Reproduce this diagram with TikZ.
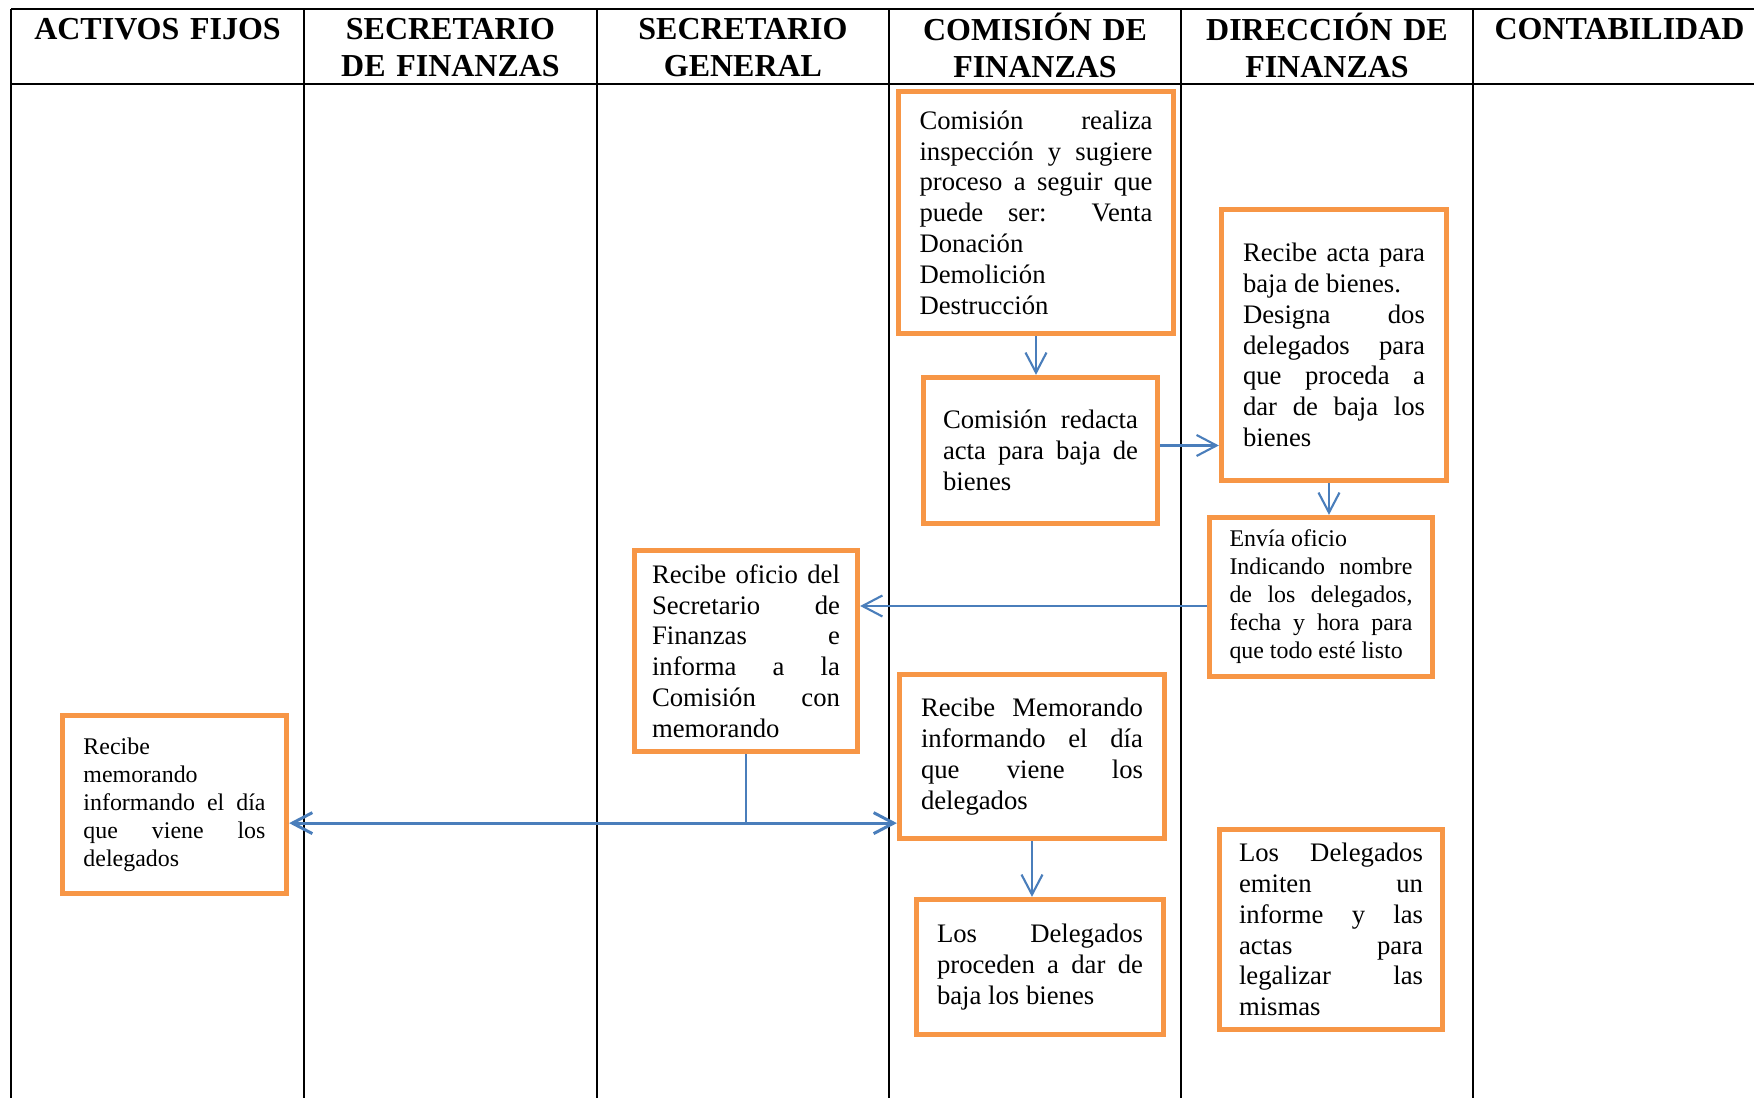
\documentclass[tikz,border=0pt]{standalone}
\usepackage{fontspec}
\setmainfont{Liberation Serif}
\usepackage{tikz}
\usetikzlibrary{arrows.meta, positioning}
\definecolor{naranja}{HTML}{F79646}
\definecolor{azul}{HTML}{4A7EBB}
% texto justificado sin cortes de palabra
\tolerance=10000
\hbadness=10000
\hyphenpenalty=10000
\exhyphenpenalty=10000

\begin{document}
\begin{tikzpicture}[
    paso/.style={rectangle, draw=naranja, line width=1.5pt, inner sep=0pt, align=justify,
      font=\fontsize{7.6}{8.76}\selectfont},
    chico/.style={font=\fontsize{6.8}{7.95}\selectfont},
    titulo/.style={anchor=north, inner sep=0pt, text width=2.55cm, align=center,
      font=\fontsize{9.1}{10.5}\selectfont\bfseries, execute at begin node=\strut},
    flecha/.style={azul, line width=0.6pt, -{Straight Barb[length=2mm, width=2.1mm]}}]
    \useasboundingbox (0,0) rectangle (17.54,-10.98);

    % tabla de responsables
    \draw[line width=0.6pt] (0.11,-0.09) -- (17.54,-0.09) (0.11,-0.84) -- (17.54,-0.84);
    \foreach \x in {0.11,3.04,5.97,8.89,11.81,14.73}
      \draw[line width=0.6pt] (\x,-0.09) -- (\x,-10.98);

    \node[titulo] (activos) at (1.575,-0.127) {ACTIVOS FIJOS};
    \node[titulo] (secfin) at (4.505,-0.127) {SECRETARIO\\DE FINANZAS};
    \node[titulo] (secgen) at (7.43,-0.127) {SECRETARIO\\GENERAL};
    \node[titulo] (comision) at (10.35,-0.127) {COMISIÓN DE\\FINANZAS};
    \node[titulo] (direccion) at (13.27,-0.127) {DIRECCIÓN DE\\FINANZAS};
    \node[titulo] (contab) at (16.195,-0.127) {CONTABILIDAD};

    % pasos del proceso
    \node[paso, text width=2.33cm, minimum width=2.75cm, minimum height=2.42cm] (inspeccion) at (10.36,-2.125)
      {Comisión realiza inspección y sugiere proceso a seguir que puede ser: Venta Donación\par Demolición\par Destrucción};
    \node[paso, text width=1.95cm, minimum width=2.34cm, minimum height=1.46cm] (redacta) at (10.405,-4.505)
      {Comisión redacta acta para baja de bienes};
    \node[paso, text width=1.82cm, minimum width=2.25cm, minimum height=2.71cm] (acta) at (13.34,-3.45)
      {Recibe acta para baja de bienes.\par Designa dos delegados para que proceda a dar de baja los bienes};
    \node[paso, chico, text width=1.83cm, minimum width=2.23cm, minimum height=1.59cm] (envia) at (13.21,-5.97)
      {Envía oficio\par Indicando nombre de los delegados, fecha y hora para que todo esté listo};
    \node[paso, text width=1.88cm, minimum width=2.23cm, minimum height=2.01cm] (oficio) at (7.46,-6.51)
      {Recibe oficio del\linebreak Secretario de\linebreak Finanzas e\linebreak informa a la\linebreak Comisión con\linebreak memorando};
    \node[paso, text width=2.22cm, minimum width=2.65cm, minimum height=1.64cm] (memocom) at (10.32,-7.565)
      {Recibe Memorando\linebreak informando el día\linebreak que viene los\linebreak delegados};
    \node[paso, text width=2.06cm, minimum width=2.47cm, minimum height=1.35cm] (procede) at (10.40,-9.67)
      {Los Delegados proceden a dar de baja los bienes};
    \node[paso, text width=1.84cm, minimum width=2.23cm, minimum height=2.00cm] (emiten) at (13.31,-9.295)
      {Los Delegados emiten un informe y las actas para legalizar las mismas};
    \node[paso, chico, text width=1.82cm, minimum width=2.24cm, minimum height=1.78cm] (memoaf) at (1.745,-8.045)
      {Recibe\par memorando\par informando el día\linebreak que viene los\linebreak delegados};

    % flujo
    \draw[flecha] (inspeccion.south) -- (inspeccion.south |- redacta.north);
    \draw[flecha] ([yshift=0.05cm]redacta.east) -- ([yshift=0.05cm]redacta.east -| acta.west);
    \draw[flecha] ([xshift=-0.05cm]acta.south) -- ([xshift=-0.05cm]acta.south |- envia.north);
    \draw[flecha] ([yshift=-0.09cm]envia.west) -- ([yshift=-0.09cm]envia.west -| oficio.east);
    \draw[flecha] (memocom.south) -- (memocom.south |- procede.north);
    \draw[azul, line width=0.6pt] (oficio.south) -- ++(0,-0.69) coordinate (cruce);
    \draw[flecha, line width=0.85pt] (cruce) -- (cruce -| memoaf.east);
    \draw[flecha, line width=0.85pt] (cruce) -- (cruce -| memocom.west);
  \end{tikzpicture}
\end{document}
